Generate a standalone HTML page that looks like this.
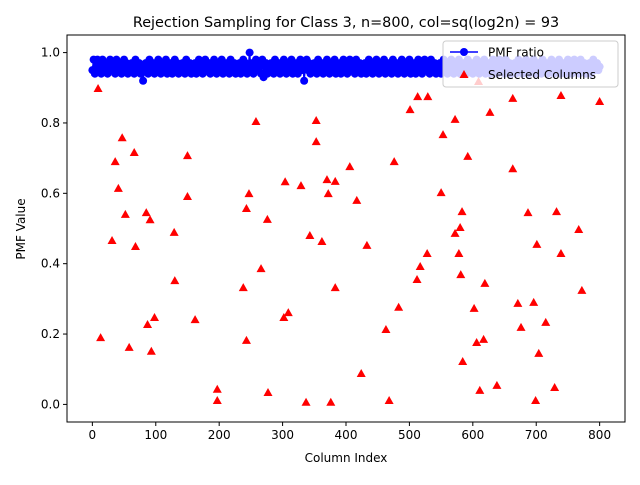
<!DOCTYPE html>
<html><head><meta charset="utf-8"><style>
html,body{margin:0;padding:0;background:#fff;}
svg text{font-family:"DejaVu Sans","Liberation Sans",sans-serif;}
</style></head><body>
<svg id="chart" width="640" height="480" xmlns="http://www.w3.org/2000/svg">
<rect width="640" height="480" fill="#fff"/>
<text x="346" y="27" font-size="14.4" text-anchor="middle">Rejection Sampling for Class 3, n=800, col=sq(log2n) = 93</text>
<g id="plot"></g>
<g id="axes"></g>
<text x="346" y="462" font-size="12" text-anchor="middle">Column Index</text>
<text transform="translate(25,229) rotate(-90)" font-size="12" text-anchor="middle">PMF Value</text>
<g>
<rect x="443" y="41" width="175" height="46" rx="3" fill="#fff" fill-opacity="0.8" stroke="#ccc"/>
<line x1="450" y1="52" x2="478" y2="52" stroke="#0000ff" stroke-width="1.5"/>
<circle cx="464" cy="52" r="4" fill="#0000ff"/>
<text x="488" y="56.5" font-size="12">PMF ratio</text>
<polygon points="464,70 468.5,78 459.5,78" fill="#ff0000"/>
<text x="488" y="79" font-size="12">Selected Columns</text>
</g>
</svg>
<script>
// blue series sampled every 2 indices
const pmfIndexStep = 2;
const pmfValues = [
0.95,0.98,0.94,0.96,0.98,0.95,0.97,0.94,0.98,0.96,0.95,0.97,0.94,0.96,0.98,0.95,0.97,0.96,0.94,0.98,
0.96,0.95,0.97,0.94,0.96,0.98,0.95,0.97,0.94,0.96,0.95,0.97,0.96,0.94,0.98,0.95,0.96,0.97,0.94,0.96,
0.92,0.95,0.97,0.96,0.94,0.98,0.95,0.96,0.97,0.94,0.96,0.95,0.98,0.96,0.94,0.97,0.95,0.96,0.98,0.94,
0.96,0.95,0.97,0.94,0.96,0.98,0.95,0.97,0.94,0.96,0.95,0.97,0.96,0.94,0.98,0.95,0.96,0.97,0.94,0.96,
0.95,0.97,0.94,0.96,0.98,0.95,0.97,0.94,0.96,0.98,0.95,0.96,0.97,0.94,0.96,0.95,0.98,0.96,0.94,0.97,
0.95,0.96,0.98,0.94,0.96,0.95,0.97,0.96,0.94,0.98,0.95,0.96,0.97,0.94,0.96,0.95,0.97,0.94,0.96,0.98,
0.95,0.97,0.94,0.96,1.00,0.95,0.97,0.94,0.96,0.98,0.95,0.97,0.96,0.94,0.98,0.93,0.96,0.97,0.94,0.96,
0.95,0.97,0.96,0.94,0.98,0.95,0.96,0.97,0.94,0.96,0.95,0.98,0.96,0.94,0.97,0.95,0.96,0.98,0.94,0.96,
0.95,0.97,0.94,0.96,0.98,0.95,0.97,0.92,0.96,0.98,0.95,0.97,0.94,0.96,0.95,0.97,0.96,0.94,0.98,0.95,
0.96,0.97,0.94,0.96,0.95,0.98,0.96,0.94,0.97,0.95,0.96,0.98,0.94,0.96,0.95,0.97,0.94,0.96,0.98,0.95,
0.97,0.94,0.96,0.98,0.95,0.97,0.96,0.94,0.98,0.95,0.96,0.97,0.94,0.96,0.95,0.97,0.94,0.96,0.98,0.95,
0.96,0.94,0.97,0.95,0.98,0.96,0.94,0.97,0.95,0.96,0.98,0.94,0.96,0.95,0.97,0.96,0.94,0.98,0.95,0.96,
0.97,0.94,0.96,0.95,0.98,0.96,0.94,0.97,0.95,0.96,0.98,0.94,0.96,0.95,0.97,0.94,0.96,0.98,0.95,0.97,
0.94,0.96,0.98,0.95,0.97,0.96,0.94,0.98,0.95,0.96,0.97,0.94,0.96,0.95,0.97,0.94,0.96,0.98,0.95,0.96,
0.94,0.97,0.95,0.98,0.96,0.94,0.97,0.95,0.96,0.98,0.94,0.96,0.95,0.97,0.96,0.94,0.98,0.95,0.96,0.97,
0.94,0.96,0.95,0.98,0.96,0.94,0.97,0.95,0.96,0.98,0.94,0.96,0.95,0.97,0.94,0.96,0.98,0.95,0.97,0.94,
0.96,0.98,0.95,0.97,0.96,0.94,0.98,0.95,0.96,0.97,0.94,0.96,0.95,0.97,0.94,0.96,0.98,0.95,0.96,0.94,
0.97,0.95,0.98,0.96,0.94,0.97,0.95,0.96,0.98,0.94,0.96,0.95,0.97,0.96,0.94,0.98,0.95,0.96,0.97,0.94,
0.96,0.95,0.98,0.96,0.94,0.97,0.95,0.96,0.98,0.94,0.96,0.95,0.97,0.94,0.96,0.98,0.95,0.97,0.94,0.96,
0.98,0.95,0.97,0.96,0.94,0.98,0.95,0.96,0.97,0.94,0.96,0.95,0.97,0.94,0.96,0.98,0.95,0.96,0.97,0.95,0.96];
const selIndex = [9,13,31,36,41,47,52,58,66,68,85,87,91,93,98,129,130,150,150,162,197,197,238,243,243,247,258,266,276,277,304,302,309,329,337,343,353,353,362,370,372,376,383,383,406,417,424,433,463,468,476,483,501,512,513,517,529,528,550,553,572,572,578,580,581,583,584,592,602,606,611,609,617,619,627,638,663,663,671,676,687,696,699,701,704,715,729,732,739,739,767,772,800];
const selValue = [0.898,0.19,0.466,0.69,0.614,0.758,0.54,0.162,0.716,0.449,0.545,0.227,0.525,0.151,0.247,0.489,0.352,0.707,0.591,0.241,0.043,0.011,0.332,0.557,0.182,0.599,0.804,0.386,0.526,0.034,0.633,0.247,0.261,0.622,0.006,0.48,0.807,0.747,0.463,0.639,0.599,0.006,0.634,0.332,0.676,0.58,0.088,0.452,0.213,0.011,0.69,0.276,0.838,0.355,0.875,0.392,0.875,0.429,0.602,0.767,0.81,0.486,0.429,0.503,0.369,0.548,0.122,0.705,0.273,0.176,0.04,0.918,0.185,0.344,0.83,0.054,0.87,0.67,0.287,0.219,0.545,0.29,0.011,0.455,0.145,0.233,0.048,0.548,0.429,0.878,0.497,0.324,0.861];
const xTicks = [0,100,200,300,400,500,600,700,800];
const yTicks = [0.0,0.2,0.4,0.6,0.8,1.0];

const L=67,R=625,T=35,B=422, xMin=-40,xMax=840,yMin=-0.05,yMax=1.05;
const xs=v=>L+(v-xMin)/(xMax-xMin)*(R-L);
const ys=v=>B-(v-yMin)/(yMax-yMin)*(B-T);
const NS="http://www.w3.org/2000/svg";
const plot=document.getElementById('plot'), axes=document.getElementById('axes');
function mk(tag,attrs,parent){const e=document.createElementNS(NS,tag);for(const k in attrs)e.setAttribute(k,attrs[k]);parent.appendChild(e);return e;}

let pts=pmfValues.map((v,i)=>xs(i*pmfIndexStep).toFixed(1)+','+ys(v).toFixed(1)).join(' ');
const line=mk('polyline',{points:pts,fill:'none',stroke:'#0000ff','stroke-width':1.5},plot);


pmfValues.forEach((v,i)=>{
  const c=mk('circle',{cx:xs(i*pmfIndexStep),cy:ys(v),r:4,fill:'#0000ff'},plot);
  
  
});
selIndex.forEach((ix,i)=>{
  const x=xs(ix), y=ys(selValue[i]);
  const p=mk('polygon',{points:`${x},${y-4.5} ${x+4.5},${y+3.5} ${x-4.5},${y+3.5}`,fill:'#ff0000'},plot);
  
  
});
const fr=mk('rect',{x:L,y:T,width:R-L,height:B-T,fill:'none',stroke:'#000','stroke-width':1},axes);


xTicks.forEach(t=>{
  const x=xs(t);
  mk('line',{x1:x,y1:B,x2:x,y2:B+4,stroke:'#000'},axes);
  const tx=mk('text',{x:x,y:B+17,'font-size':12,'text-anchor':'middle'},axes);
  tx.textContent=t;
  
  
});
yTicks.forEach(t=>{
  const y=ys(t);
  mk('line',{x1:L-4,y1:y,x2:L,y2:y,stroke:'#000'},axes);
  const tx=mk('text',{x:L-7,y:y+4,'font-size':12,'text-anchor':'end'},axes);
  tx.textContent=t.toFixed(1);
  
  
});
</script>
</body></html>
